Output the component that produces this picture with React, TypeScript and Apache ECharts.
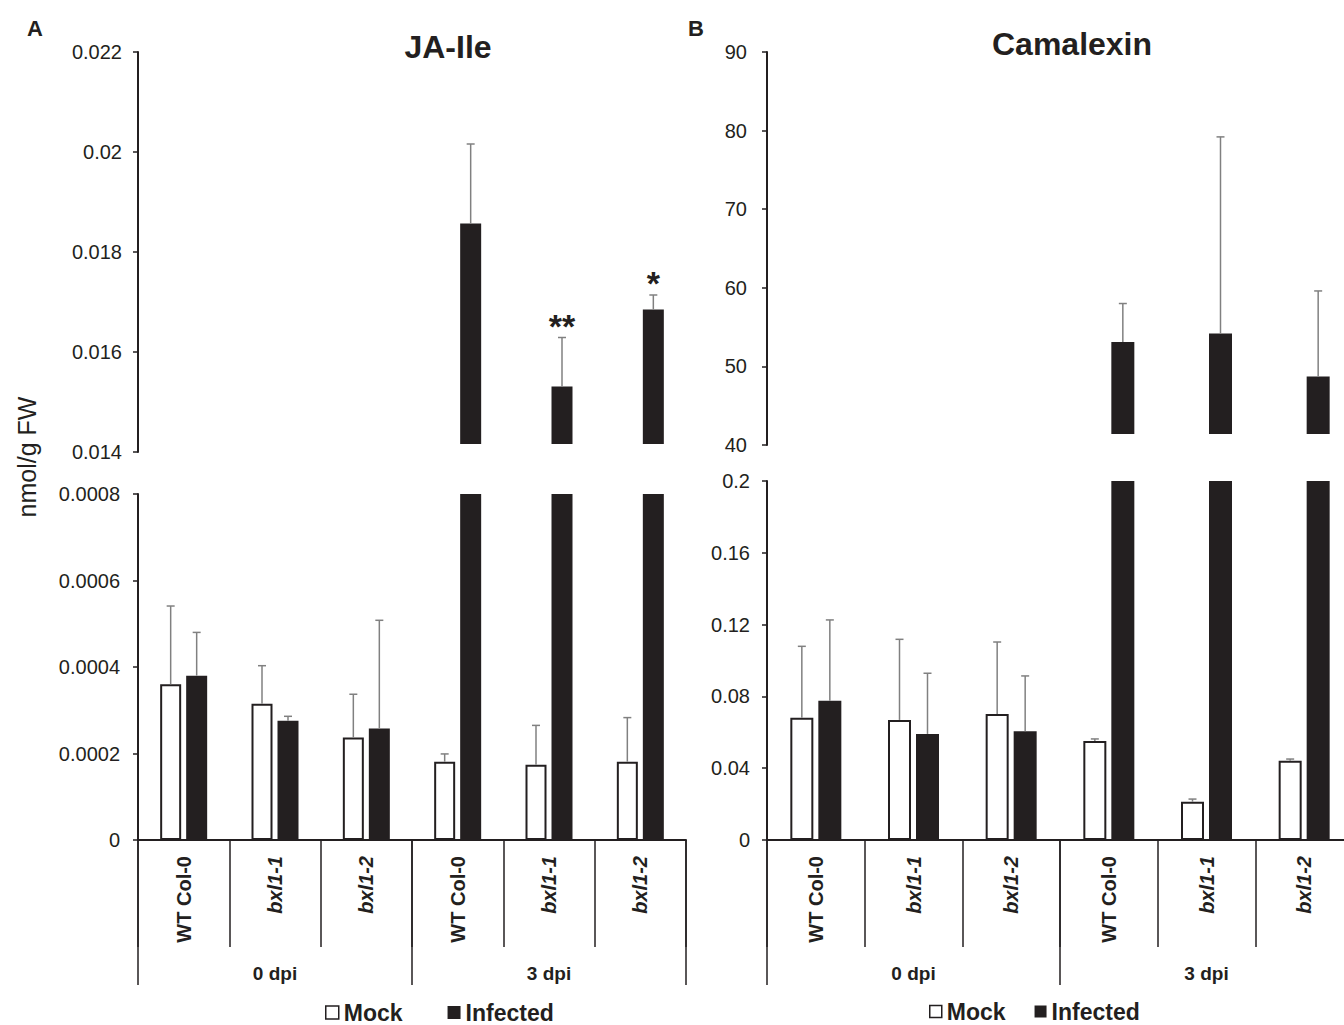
import React, { useEffect, useRef } from "react";
import * as echarts from "echarts";

// ---------- data ----------
const genotypes = ["WT Col-0", "bxl1-1", "bxl1-2", "WT Col-0", "bxl1-1", "bxl1-2"];
const timepoints = ["0 dpi", "3 dpi"];
const legendNames = ["Mock", "Infected"];

// JA-Ile (nmol/g FW)
const jaMock = [0.00036, 0.000315, 0.000237, 0.000181, 0.000174, 0.000181];
const jaMockErr = [0.000181, 0.000088, 0.0001, 0.000018, 0.000091, 0.000102];
const jaInf = [0.00038, 0.000276, 0.000258, 0.01857, 0.01531, 0.01685];
const jaInfErr = [0.0001, 0.00001, 0.00025, 0.00159, 0.00098, 0.00029];
const jaSig = ["", "", "", "", "**", "*"];

// Camalexin (nmol/g FW)
const camMock = [0.0681, 0.0669, 0.0702, 0.0552, 0.0213, 0.0442];
const camMockErr = [0.0398, 0.0449, 0.0401, 0.0011, 0.0015, 0.0009];
const camInf = [0.0776, 0.0591, 0.0606, 53.1, 54.2, 48.7];
const camInfErr = [0.045, 0.0338, 0.0308, 4.9, 25.0, 10.9];
const camSig = ["", "", "", "", "", ""];

// axis ranges (broken axes: upper / lower)
const jaUpperAxis = { min: 0.014, max: 0.022, interval: 0.002 };
const jaLowerAxis = { min: 0, max: 0.0008, interval: 0.0002 };
const camUpperAxis = { min: 40, max: 90, interval: 10 };
const camLowerAxis = { min: 0, max: 0.2, interval: 0.04 };

// ---------- style ----------
const FONT = "'Liberation Sans', Arial, Helvetica, sans-serif";
const INK = "#231f20";
const ERR = "#808080";
const PAGE_W = 1344;
const PAGE_H = 1025;
const CHART_W = 1370; // panel B runs past the right edge of the picture

type Layout = {
  left: number;
  width: number;
  upperTop: number;
  upperHeight: number;
  lowerTop: number;
  lowerHeight: number;
  barW: number;
  barGap: number;
  upperGap: number;
  upperLabelMargin: number;
  lowerLabelMargin: number;
};

const layoutA: Layout = {
  left: 138,
  width: 548,
  upperTop: 52,
  upperHeight: 400,
  lowerTop: 494,
  lowerHeight: 346,
  barW: 21,
  barGap: 5,
  upperGap: 8,
  upperLabelMargin: 16,
  lowerLabelMargin: 18,
};

const layoutB: Layout = {
  left: 767,
  width: 586,
  upperTop: 52,
  upperHeight: 393,
  lowerTop: 481,
  lowerHeight: 359,
  barW: 23,
  barGap: 5,
  upperGap: 11,
  upperLabelMargin: 20,
  lowerLabelMargin: 17,
};

function yAxisCfg(gridIndex: number, ax: { min: number; max: number; interval: number }, margin: number) {
  return {
    type: "value",
    gridIndex,
    min: ax.min,
    max: ax.max,
    interval: ax.interval,
    axisLine: { show: true, lineStyle: { color: INK, width: 2 } },
    axisTick: { show: true, inside: false, length: 5, lineStyle: { color: INK, width: 1.5 } },
    splitLine: { show: false },
    axisLabel: { margin, fontSize: 20, color: INK, fontFamily: FONT },
  };
}

function errorSeries(
  name: string,
  values: number[],
  errs: number[],
  offset: number,
  xAxisIndex: number,
  yAxisIndex: number,
  keep: (v: number) => boolean,
  sig: string[]
) {
  const data = values.map((v, i) => [i, v, errs[i]]).filter((d) => keep(d[1]));
  return {
    type: "custom",
    name,
    xAxisIndex,
    yAxisIndex,
    data,
    encode: { x: 0, y: 1 },
    z: 4,
    silent: true,
    renderItem: (params: any, api: any) => {
      const i = api.value(0);
      const v = api.value(1);
      const e = api.value(2);
      const base = api.coord([i, v]);
      const top = api.coord([i, v + e]);
      const x = base[0] + offset;
      const children: any[] = [
        { type: "line", shape: { x1: x, y1: base[1], x2: x, y2: top[1] }, style: { stroke: ERR, lineWidth: 1.5 } },
        { type: "line", shape: { x1: x - 4, y1: top[1], x2: x + 4, y2: top[1] }, style: { stroke: ERR, lineWidth: 1.5 } },
      ];
      const s = sig[i];
      if (s) {
        children.push({
          type: "text",
          x,
          y: top[1] - 12,
          style: {
            text: s,
            fontSize: 34,
            fontWeight: "bold",
            fontFamily: FONT,
            fill: INK,
            align: "center",
            verticalAlign: "middle",
          },
        });
      }
      return { type: "group", children };
    },
  };
}

function buildPanel(
  L: Layout,
  gi: number,
  xi: number,
  yi: number,
  mock: number[],
  mockErr: number[],
  inf: number[],
  infErr: number[],
  sig: string[],
  upperAx: { min: number; max: number; interval: number },
  lowerAx: { min: number; max: number; interval: number }
) {
  const off = (L.barW + L.barGap) / 2;
  const grids = [
    { left: L.left, width: L.width, top: L.upperTop, height: L.upperHeight },
    { left: L.left, width: L.width, top: L.lowerTop, height: L.lowerHeight },
  ];
  const xAxes = [
    { type: "category", gridIndex: gi, data: genotypes, show: false },
    {
      type: "category",
      gridIndex: gi + 1,
      data: genotypes,
      position: "bottom",
      offset: 0,
      axisLine: { show: true, lineStyle: { color: INK, width: 2 } },
      axisTick: { show: true, interval: 0, length: 107, lineStyle: { color: INK, width: 1.5 } },
      axisLabel: {
        interval: 0,
        rotate: 90,
        margin: 16,
        formatter: (v: string) => (v.startsWith("bxl") ? `{i|${v}}` : `{b|${v}}`),
        rich: {
          i: { fontSize: 20, fontWeight: "bold", fontStyle: "italic", fontFamily: FONT, color: INK },
          b: { fontSize: 20, fontWeight: "bold", fontFamily: FONT, color: INK },
        },
      },
    },
    {
      type: "category",
      gridIndex: gi + 1,
      data: timepoints,
      position: "bottom",
      offset: 0,
      axisLine: { show: false },
      axisTick: { show: true, interval: 0, length: 145, lineStyle: { color: INK, width: 1.5 } },
      axisLabel: { interval: 0, margin: 124, fontSize: 19, fontWeight: "bold", fontFamily: FONT, color: INK },
    },
  ];
  const yAxes = [yAxisCfg(gi, upperAx, L.upperLabelMargin), yAxisCfg(gi + 1, lowerAx, L.lowerLabelMargin)];

  const upperMin = upperAx.min;
  const series: any[] = [
    {
      type: "bar",
      name: "Mock",
      xAxisIndex: xi + 1,
      yAxisIndex: yi + 1,
      data: mock,
      barWidth: L.barW,
      barGap: `${(L.barGap / L.barW) * 100}%`,
      clip: true,
      itemStyle: { color: "#ffffff", borderColor: INK, borderWidth: 2 },
    },
    {
      type: "bar",
      name: "Infected",
      xAxisIndex: xi + 1,
      yAxisIndex: yi + 1,
      data: inf,
      barWidth: L.barW,
      barGap: `${(L.barGap / L.barW) * 100}%`,
      clip: true,
      itemStyle: { color: INK },
    },
    {
      type: "custom",
      name: "Infected (upper)",
      xAxisIndex: xi,
      yAxisIndex: yi,
      data: inf.map((v, i) => [i, v]).filter((d) => d[1] >= upperMin),
      encode: { x: 0, y: 1 },
      renderItem: (params: any, api: any) => {
        const i = api.value(0);
        const v = api.value(1);
        const top = api.coord([i, v]);
        const base = api.coord([i, upperMin]);
        return {
          type: "rect",
          shape: { x: top[0] + off - L.barW / 2, y: top[1], width: L.barW, height: base[1] - L.upperGap - top[1] },
          style: { fill: INK },
        };
      },
    },
    errorSeries("Mock SD", mock, mockErr, -off, xi + 1, yi + 1, (v) => v <= lowerAx.max, sig.map(() => "")),
    errorSeries("Infected SD", inf, infErr, off, xi + 1, yi + 1, (v) => v <= lowerAx.max, sig.map(() => "")),
    errorSeries("Infected SD (upper)", inf, infErr, off, xi, yi, (v) => v >= upperMin, sig),
  ];
  return { grids, xAxes, yAxes, series };
}

function buildOption() {
  const A = buildPanel(layoutA, 0, 0, 0, jaMock, jaMockErr, jaInf, jaInfErr, jaSig, jaUpperAxis, jaLowerAxis);
  const B = buildPanel(layoutB, 2, 3, 2, camMock, camMockErr, camInf, camInfErr, camSig, camUpperAxis, camLowerAxis);
  const legendText = { fontSize: 23, lineHeight: 20, fontWeight: "bold", color: INK, fontFamily: FONT };
  return {
    animation: false,
    backgroundColor: "#ffffff",
    textStyle: { fontFamily: FONT },
    grid: [...A.grids, ...B.grids],
    xAxis: [...A.xAxes, ...B.xAxes],
    yAxis: [...A.yAxes, ...B.yAxes],
    series: [...A.series, ...B.series],
    legend: [
      {
        data: legendNames,
        left: 325,
        top: 1001,
        padding: 0,
        icon: "rect",
        itemWidth: 13,
        itemHeight: 13,
        itemGap: 45,
        itemStyle: { borderWidth: 1.5 },
        textStyle: legendText,
      },
      {
        data: legendNames,
        left: 929,
        top: 1000,
        padding: 0,
        icon: "rect",
        itemWidth: 12,
        itemHeight: 12,
        itemGap: 29,
        itemStyle: { borderWidth: 1.5 },
        textStyle: legendText,
      },
    ],
    graphic: [
      {
        type: "text",
        x: 35,
        y: 28,
        style: { text: "A", fontSize: 22, fontWeight: "bold", fontFamily: FONT, fill: INK, align: "center", verticalAlign: "middle" },
      },
      {
        type: "text",
        x: 696,
        y: 28,
        style: { text: "B", fontSize: 22, fontWeight: "bold", fontFamily: FONT, fill: INK, align: "center", verticalAlign: "middle" },
      },
      {
        type: "text",
        x: 448,
        y: 47,
        style: { text: "JA-Ile", fontSize: 32, fontWeight: "bold", fontFamily: FONT, fill: INK, align: "center", verticalAlign: "middle" },
      },
      {
        type: "text",
        x: 1072,
        y: 44,
        style: { text: "Camalexin", fontSize: 32, fontWeight: "bold", fontFamily: FONT, fill: INK, align: "center", verticalAlign: "middle" },
      },
      {
        type: "text",
        x: 27,
        y: 457,
        rotation: Math.PI / 2,
        style: { text: "nmol/g FW", fontSize: 25, fontFamily: FONT, fill: INK, align: "center", verticalAlign: "middle" },
      },
    ],
  };
}

export default function App() {
  const ref = useRef<HTMLDivElement>(null);
  useEffect(() => {
    if (!ref.current) return;
    const chart = echarts.init(ref.current, null, { renderer: "svg" });
    chart.setOption(buildOption() as any);
    return () => chart.dispose();
  }, []);
  return (
    <div
      style={{
        position: "absolute",
        left: 0,
        top: 0,
        width: PAGE_W,
        height: PAGE_H,
        background: "#ffffff",
        overflow: "hidden",
      }}
    >
      <div ref={ref} style={{ width: CHART_W, height: PAGE_H }} />
    </div>
  );
}
